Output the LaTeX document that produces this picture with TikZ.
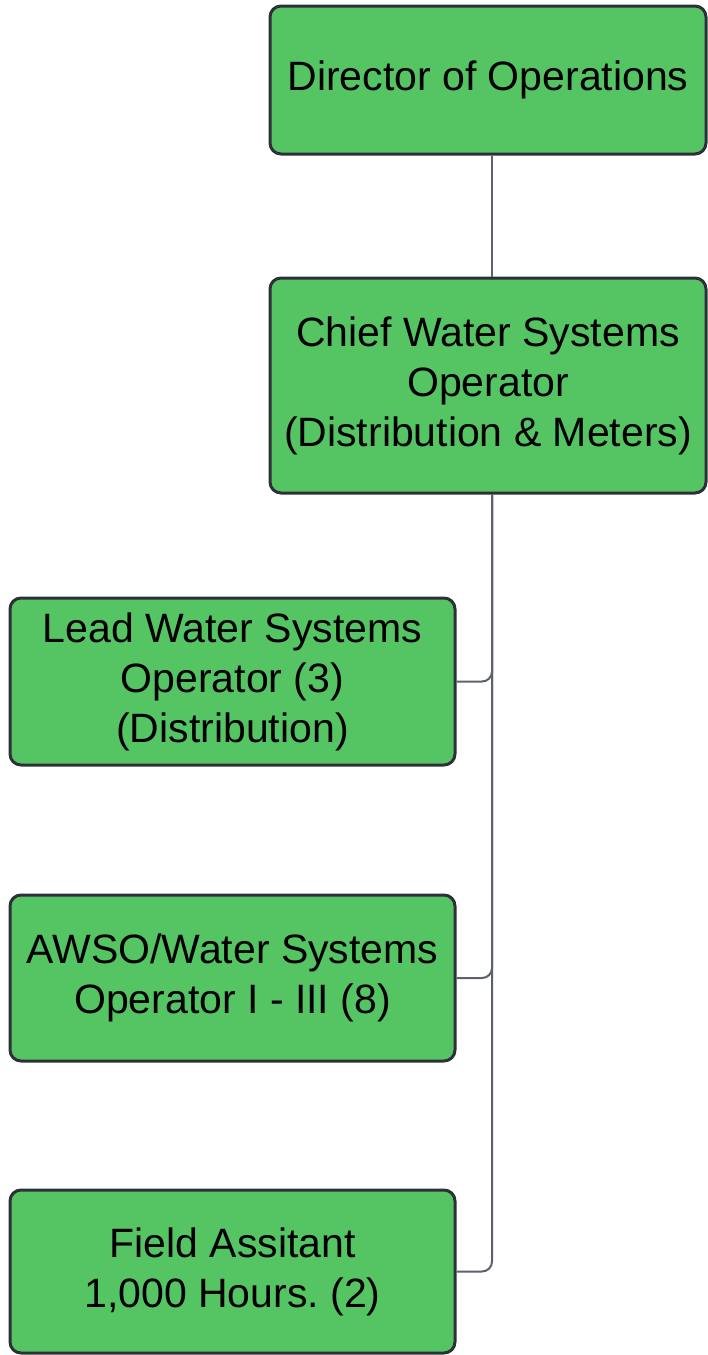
\documentclass[tikz,border=0pt]{standalone}
\usepackage{fontspec}
\setmainfont{Liberation Sans}
\usepackage{xcolor}
\usepackage{tikz}
\usetikzlibrary{calc}
\frenchspacing

\definecolor{boxgreen}{HTML}{55C463}
\definecolor{boxline}{HTML}{2D3038}
\definecolor{linkgray}{HTML}{5C616B}

\begin{document}
\begin{tikzpicture}[x=1pt, y=1pt,
    role/.style={draw=boxline, line width=3pt, fill=boxgreen,
      rounded corners=11pt, align=center, inner sep=0pt,
      font=\fontsize{41}{50}\selectfont},
    link/.style={draw=linkgray, line width=2pt}]
  \useasboundingbox (0,0) rectangle (708,-1355);
  % ── Top of the chart ──────────────────────────
  \node[role, minimum width=436, minimum height=148] (dir) at (488,-80)
    {Director of Operations};
  \node[role, minimum width=436, minimum height=215] (chief) at (488,-385.5)
    {Chief Water Systems\\Operator\\(Distribution \& Meters)};
  % ── Staff under the chief ──────────────────────────
  \node[role, minimum width=445, minimum height=167] (lead) at (232.5,-681.5)
    {Lead Water Systems\\Operator (3)\\(Distribution)};
  \node[role, minimum width=445, minimum height=166] (awso) at (232.5,-978)
    {AWSO/Water Systems\\Operator I - III (8)};
  \node[role, minimum width=445, minimum height=163] (field) at (232.5,-1271.5)
    {Field Assitant\\1,000 Hours. (2)};
  % Trunk
  \coordinate (trunk) at (492,0);
  \draw[link] (dir.south -| trunk) -- (chief.north -| trunk);
  % Branches
  \foreach \staff in {lead,awso,field}
    \draw[link, rounded corners=10pt] (chief.south -| trunk) |- (\staff.east);
\end{tikzpicture}
\end{document}
